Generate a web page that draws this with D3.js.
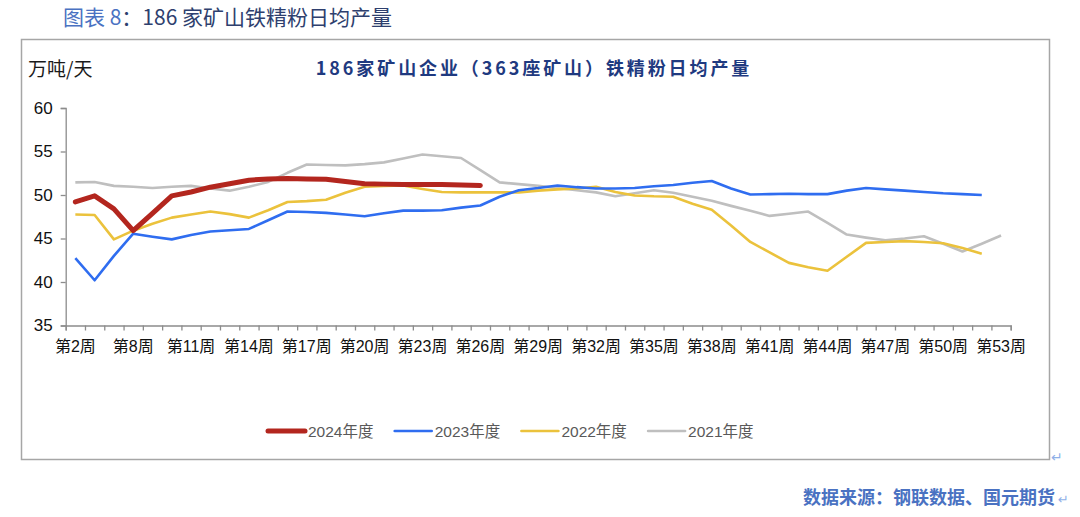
<!DOCTYPE html>
<html><head><meta charset="utf-8">
<script src="https://cdn.jsdelivr.net/npm/d3@7"></script>
<style>
html,body{margin:0;padding:0;background:#fff;}
svg{display:block;}
</style></head>
<body>
<svg id="c" width="1080" height="517"></svg>
<script>
const weeks = [2,4,6].concat(d3.range(8,54));
const categories = weeks.map(w => "第" + w + "周");
const labelWeeks = ["第2周","第8周","第11周","第14周","第17周","第20周","第23周","第26周","第29周","第32周","第35周","第38周","第41周","第44周","第47周","第50周","第53周"];
const yTicks = [35,40,45,50,55,60];

const s2024 = [49.2,49.9,48.4,45.9,47.9,49.9,50.35,50.9,51.3,51.7,51.85,51.9,51.85,51.8,51.55,51.3,51.25,51.2,51.2,51.2,51.15,51.1];
const s2023 = [42.75,40.2,43.0,45.55,45.2,44.9,45.4,45.8,45.95,46.1,47.1,48.1,48.05,47.95,47.75,47.55,47.9,48.2,48.2,48.25,48.55,48.8,49.8,50.55,50.8,51.1,50.9,50.75,50.75,50.8,51.0,51.15,51.4,51.6,50.75,50.05,50.1,50.15,50.1,50.1,50.5,50.8,50.65,50.5,50.35,50.2,50.1,50.0];
const s2022 = [47.75,47.7,44.9,45.9,46.7,47.4,47.75,48.1,47.8,47.4,48.25,49.2,49.3,49.45,50.25,50.95,51.05,51.1,50.7,50.35,50.3,50.3,50.3,50.3,50.5,50.65,50.75,50.95,50.35,49.95,49.85,49.8,49.0,48.3,46.5,44.6,43.4,42.2,41.7,41.3,42.9,44.5,44.6,44.7,44.6,44.45,43.9,43.25];
const s2021 = [51.45,51.5,51.05,50.95,50.8,50.95,51.05,50.75,50.5,50.95,51.5,52.55,53.5,53.45,53.4,53.55,53.75,54.2,54.65,54.45,54.25,52.85,51.45,51.25,51.05,50.8,50.55,50.3,49.85,50.2,50.55,50.25,49.8,49.35,48.75,48.2,47.6,47.85,48.1,46.8,45.45,45.1,44.8,45.0,45.25,44.4,43.5,44.4,45.35];

const seriesNames = ["2024年度","2023年度","2022年度","2021年度"];
const seriesColors = ["#B3261E","#2F6DF0","#EBC23C","#BFBFBF"];
const seriesWidths = [5,2.6,2.6,2.6];
const seriesData = [s2024,s2023,s2022,s2021];

const svg = d3.select("#c");
const X0 = 65.7, X1 = 1010.7, Y0 = 325.5, Y1 = 108;

// frame
svg.append("rect").attr("x",21.5).attr("y",39.5).attr("width",1028).attr("height",420)
  .attr("fill","none").attr("stroke","#a6a6a6").attr("stroke-width",1.5);

// page title
const t = svg.append("text").attr("x",63).attr("y",25).attr("font-family","'Noto Sans CJK SC'").attr("font-size",21);
t.append("tspan").attr("fill","#4A72C2").text("图表 8");
t.append("tspan").attr("fill","#2E3F6E").text("：186 家矿山铁精粉日均产量");

// chart title
svg.append("text").attr("x",534).attr("y",75).attr("text-anchor","middle")
  .attr("font-family","'Noto Sans CJK SC'").attr("font-weight","bold").attr("font-size",18)
  .attr("letter-spacing","2.9").attr("fill","#1F3A80")
  .text("186家矿山企业（363座矿山）铁精粉日均产量");

// unit
svg.append("text").attr("x",28).attr("y",76).attr("font-family","'Noto Sans CJK SC'")
  .attr("font-size",19).attr("fill","#1a1a1a").text("万吨/天");

const x = d3.scaleBand().domain(categories).range([X0,X1]).padding(0);
const xi = d3.scaleLinear().domain([0,categories.length]).range([X0,X1]);
const y = d3.scaleLinear().domain([35,60]).range([Y0,Y1]);

// y axis
const ya = svg.append("g").attr("transform",`translate(${X0},0)`)
  .call(d3.axisLeft(y).tickValues(yTicks).tickSize(5).tickPadding(8));
ya.select(".domain").attr("stroke","#8c8c8c").attr("stroke-width",1.3);
ya.selectAll(".tick line").attr("stroke","#8c8c8c").attr("stroke-width",1.3);
ya.selectAll(".tick text").attr("font-family","'Liberation Sans',Arial").attr("font-size",17).attr("fill","#111");

// x axis tick marks at band boundaries
const xt = svg.append("g").attr("transform",`translate(0,${Y0})`)
  .call(d3.axisBottom(xi).tickValues(d3.range(categories.length+1)).tickSize(5).tickFormat(""));
xt.select(".domain").attr("stroke","#8c8c8c").attr("stroke-width",1.3);
xt.selectAll(".tick line").attr("stroke","#8c8c8c").attr("stroke-width",1.3);

// x labels
const xl = svg.append("g").attr("transform",`translate(0,${Y0})`)
  .call(d3.axisBottom(x).tickValues(labelWeeks).tickSize(0).tickPadding(15));
xl.select(".domain").remove();
xl.selectAll(".tick text").attr("font-family","'Liberation Sans','Noto Sans CJK SC',Arial").attr("font-size",16).attr("fill","#111");

// lines (draw order: 2021, 2022, 2023, 2024 on top)
const line = d3.line().x((d,i)=>x(categories[i])+x.bandwidth()/2).y(d=>y(d));
for (let k = seriesData.length-1; k >= 0; k--) {
  svg.append("path").datum(seriesData[k]).attr("d",line).attr("fill","none")
    .attr("stroke",seriesColors[k]).attr("stroke-width",seriesWidths[k])
    .attr("stroke-linejoin","round").attr("stroke-linecap",k===0?"round":"butt");
}

// legend
const lg = svg.append("g");
seriesNames.forEach((n,i)=>{
  const lx = 268 + i*126.7;
  lg.append("line").attr("x1",lx).attr("x2",lx+37).attr("y1",431).attr("y2",431)
    .attr("stroke",seriesColors[i]).attr("stroke-width",seriesWidths[i]).attr("stroke-linecap","round");
  lg.append("text").attr("x",lx+40).attr("y",437).attr("font-family","'Liberation Sans','Noto Sans CJK SC'")
    .attr("font-size",15.5).attr("fill","#595959").text(n);
});

// return marks
svg.append("text").attr("x",1051).attr("y",462).attr("font-family","'DejaVu Sans'").attr("font-size",14).attr("fill","#8fb0e8").text("↵");
// footer
svg.append("text").attr("x",803).attr("y",504).attr("font-family","'Noto Sans CJK SC'").attr("font-weight","bold")
  .attr("font-size",18).attr("fill","#4A72C2").text("数据来源：钢联数据、国元期货");
svg.append("text").attr("x",1058).attr("y",504).attr("font-family","'DejaVu Sans'").attr("font-size",13).attr("fill","#8fb0e8").text("↵");
</script>
</body></html>
